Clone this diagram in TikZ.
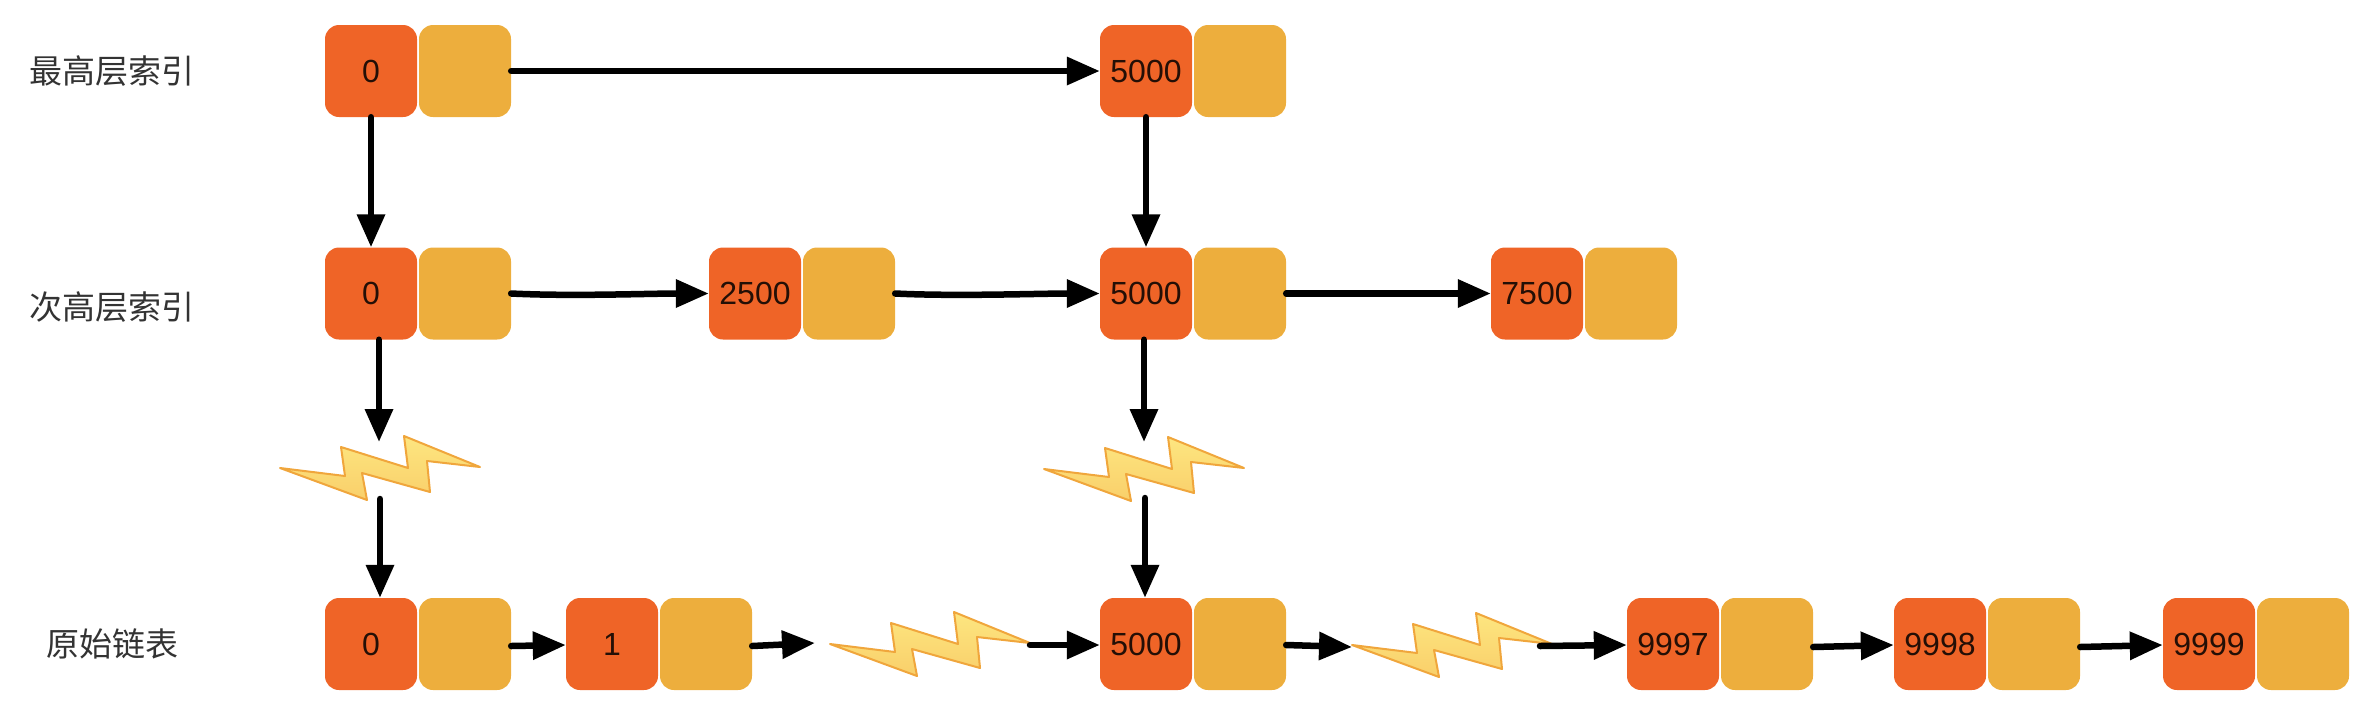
\documentclass[tikz,border=0pt]{standalone}
\usepackage{fontspec}
\setmainfont{Liberation Sans}
\newfontfamily\cjk{Noto Sans CJK SC}
\usetikzlibrary{arrows.meta}
\definecolor{keyc}{HTML}{EF6427}
\definecolor{ptrc}{HTML}{EDAE3D}
\definecolor{boltt}{HTML}{FDE680}
\definecolor{boltb}{HTML}{F9CF6A}
\definecolor{boltd}{HTML}{F0A63C}
\tikzset{
  x=1pt,y=-1pt,
  keybox/.style={fill=keyc,rounded corners=14pt,minimum size=92pt,inner sep=0pt,font=\fontsize{32}{32}\selectfont,text=black!85!keyc},
  ptrbox/.style={fill=ptrc,rounded corners=14pt,minimum size=92pt,inner sep=0pt},
  link/.style={line width=6.5pt,line cap=round,-{Triangle[length=33pt,width=27pt]},black},
  rowlabel/.style={font=\cjk\fontsize{33}{33}\selectfont,text=black!80},
  boltshape/.style={top color=boltt,bottom color=boltb,draw=boltd,line width=2pt,line join=round}
}
\newcommand{\cell}[4]{% name, left x, y, text
  \node[keybox] (#1k) at (#2+46,#3) {#4};
  \node[ptrbox] (#1p) at (#2+140,#3) {};
}
\newcommand{\bolt}[2]{% left tip x, y
  \draw[boltshape,shift={(#1,#2)}] (0,0) -- (65,8) -- (61,-21) -- (128,0) -- (124,-32) -- (200,-1) -- (147,-7) -- (150,24) -- (82,5) -- (87,32) -- cycle;
}
\begin{document}
\begin{tikzpicture}
\useasboundingbox (0,0) rectangle (2376,713);
\node[rowlabel] (l1) at (112,71) {最高层索引};
\node[rowlabel] (l2) at (112,307) {次高层索引};
\node[rowlabel] (l3) at (112,644) {原始链表};
\cell{a0}{325}{71}{0}
\cell{a5}{1100}{71}{5000}
\cell{b0}{325}{293.5}{0}
\cell{b2}{709}{293.5}{2500}
\cell{b5}{1100}{293.5}{5000}
\cell{b7}{1491}{293.5}{7500}
\cell{c0}{325}{644}{0}
\cell{c1}{566}{644}{1}
\cell{c5}{1100}{644}{5000}
\cell{c7}{1627}{644}{9997}
\cell{c8}{1894}{644}{9998}
\cell{c9}{2163}{644}{9999}
\bolt{280}{468}
\bolt{1044}{469}
\bolt{830}{644}
\bolt{1352}{645}
\coordinate (p1) at (379,442);
\coordinate (q1) at (380,499);
\coordinate (p2) at (1144,442);
\coordinate (q2) at (1145,498);
\coordinate (r1) at (815,643);
\coordinate (s1) at (1030,645);
\coordinate (r2) at (1352,647);
\coordinate (s2) at (1540,646);
\draw[link] (a0p) -- (a5k);
\draw[link] (b0p.east) .. controls +(60,3) and +(-60,0) .. (b2k.west);
\draw[link] (b2p.east) .. controls +(60,3) and +(-60,0) .. (b5k.west);
\draw[link] (b5p) -- (b7k);
\draw[link] (a0k) -- (b0k);
\draw[link] (a5k) -- (b5k);
\draw[link] (b0k.south -| p1) -- (p1);
\draw[link] (q1) -- (c0k.north -| q1);
\draw[link] (b5k.south -| p2) -- (p2);
\draw[link] (q2) -- (c5k.north -| q2);
\draw[link] ([yshift=-2pt]c0p.east) -- ([yshift=-1pt]c1k.west);
\draw[link] ([yshift=-2pt]c1p.east) -- (r1);
\draw[link] (s1) -- ([yshift=-1pt]c5k.west);
\draw[link] ([yshift=-1pt]c5p.east) -- (r2);
\draw[link] (s2) -- ([yshift=-1pt]c7k.west);
\draw[link] ([yshift=-3pt]c7p.east) -- ([yshift=-1pt]c8k.west);
\draw[link] ([yshift=-3pt]c8p.east) -- ([yshift=-1pt]c9k.west);
\end{tikzpicture}
\end{document}
